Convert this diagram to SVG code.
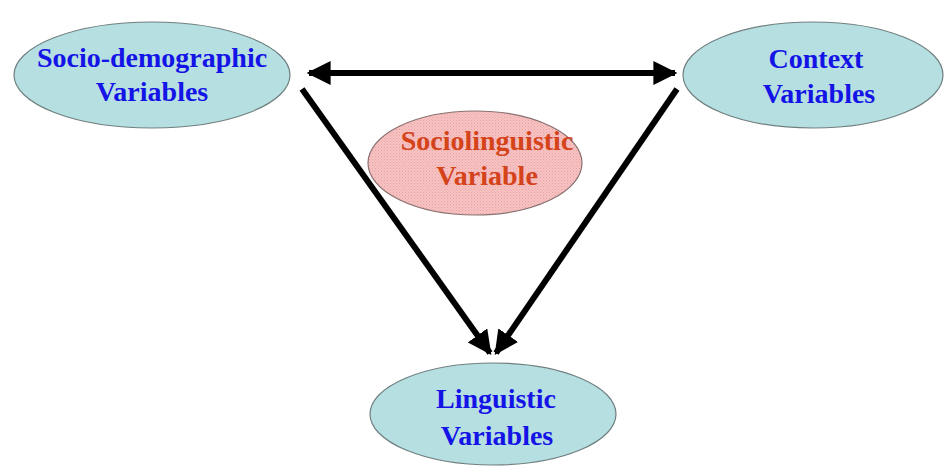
<svg xmlns="http://www.w3.org/2000/svg" width="945" height="466" viewBox="0 0 945 466">
  <style>
    .var { fill: #b6dfe1; stroke: #6f7f80; stroke-width: 1.2; }
    .core { fill: url(#stipple); stroke: #8a7070; stroke-width: 1.2; }
    .lbl { font-family: 'Liberation Serif', 'DejaVu Serif', serif; font-weight: bold; font-size: 28px; text-anchor: middle; fill: #1414e6; }
    .lbl-core { fill: #d4431a; }
    .link { stroke: #000; stroke-width: 6; fill: none; }
  </style>
  <defs>
    <!-- fine dotted pink fill for the central node -->
    <pattern id="stipple" width="3" height="3" patternUnits="userSpaceOnUse">
      <rect width="3" height="3" fill="#f6c2c2"/>
      <rect width="1" height="1" fill="#e9a3a3"/>
      <rect x="1.5" y="1.5" width="1" height="1" fill="#eeaaaa"/>
    </pattern>
    <marker id="head" viewBox="0 0 10 10" refX="9" refY="5" markerWidth="4" markerHeight="4" orient="auto-start-reverse" markerUnits="strokeWidth">
      <path d="M0,0 L10,5 L0,10 Z" fill="#000"/>
    </marker>
  </defs>
  <rect width="945" height="466" fill="#ffffff"/>

  <g id="connectors">
    <line class="link" x1="309" y1="73" x2="675" y2="73" marker-start="url(#head)" marker-end="url(#head)"/>
    <line class="link" x1="302" y1="89" x2="490" y2="353" marker-end="url(#head)"/>
    <line class="link" x1="677" y1="89" x2="496" y2="353" marker-end="url(#head)"/>
  </g>

  <g id="socio-demographic">
    <ellipse class="var" cx="152" cy="75" rx="138" ry="53"/>
    <text class="lbl" x="152" y="67">Socio-demographic</text>
    <text class="lbl" x="152" y="101">Variables</text>
  </g>

  <g id="context">
    <ellipse class="var" cx="813" cy="75" rx="130" ry="53"/>
    <text class="lbl" x="816" y="68">Context</text>
    <text class="lbl" x="819" y="103">Variables</text>
  </g>

  <g id="sociolinguistic">
    <ellipse class="core" cx="475" cy="163" rx="107" ry="52"/>
    <text class="lbl lbl-core" x="487" y="150">Sociolinguistic</text>
    <text class="lbl lbl-core" x="487" y="185">Variable</text>
  </g>

  <g id="linguistic">
    <ellipse class="var" cx="493" cy="414" rx="123" ry="51"/>
    <text class="lbl" x="496" y="408">Linguistic</text>
    <text class="lbl" x="497" y="445">Variables</text>
  </g>
</svg>
